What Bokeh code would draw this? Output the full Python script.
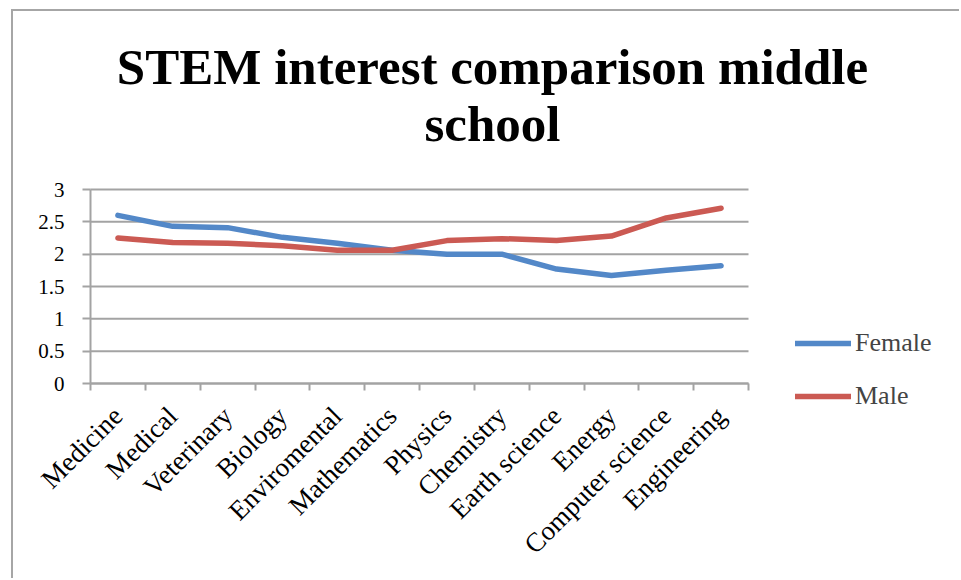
from math import pi

from bokeh.embed import file_html
from bokeh.models import (FixedTicker, Label, Legend, LegendItem,
                          NumeralTickFormatter, Range1d)
from bokeh.plotting import figure
from bokeh.resources import INLINE

# Average interest score per subject, middle school survey
categories = ["Medicine", "Medical", "Veterinary", "Biology", "Enviromental",
              "Mathematics", "Physics", "Chemistry", "Earth science", "Energy",
              "Computer science", "Engineering"]
female = [2.60, 2.43, 2.41, 2.26, 2.17, 2.06, 2.00, 2.00, 1.77, 1.67, 1.75, 1.82]
male = [2.25, 2.18, 2.17, 2.13, 2.06, 2.06, 2.21, 2.24, 2.21, 2.28, 2.56, 2.71]
y_ticks = [0, 0.5, 1, 1.5, 2, 2.5, 3]
title_lines = ["STEM interest comparison middle", "school"]

GRID = "#a3a3a3"
BLUE = "#5388c8"
RED = "#cb5a53"
SERIF = "Liberation Serif"

n = len(categories)
centers = [i + 0.5 for i in range(n)]
bounds = list(range(n + 1))
y_lo, y_hi = y_ticks[0], y_ticks[-1]

# Canvas 948x569; the plotting area is placed inside it by the ranges below
W, H = 948, 569
PX_L, PX_R, PX_T, PX_B = 77, 735, 178, 372          # plot box in canvas px
kx = (PX_R - PX_L) / n
ky = (PX_B - PX_T) / (y_hi - y_lo)
x_range = Range1d(-PX_L / kx, n + (W - PX_R) / kx)
y_range = Range1d(y_lo - (H - PX_B) / ky, y_hi + PX_T / ky)

p = figure(width=W, height=H, output_backend="svg", toolbar_location=None,
           x_range=x_range, y_range=y_range,
           min_border=0, background_fill_color="white",
           border_fill_color="white")
p.outline_line_color = None
p.styles = {"margin-left": "11px", "margin-top": "9px",
            "border-left": "2px solid #a6a6a6", "border-top": "2px solid #a6a6a6"}

# horizontal gridlines across the category span only
p.xgrid.visible = False
p.ygrid.visible = False
p.segment(x0=[bounds[0]] * len(y_ticks), x1=[bounds[-1]] * len(y_ticks),
          y0=y_ticks, y1=y_ticks, line_color=GRID, line_width=2)

# value axis pinned to the left edge of the category span
p.yaxis.fixed_location = bounds[0]
p.yaxis.bounds = (y_lo, y_hi)
p.yaxis.ticker = FixedTicker(ticks=y_ticks)
p.yaxis.formatter = NumeralTickFormatter(format="0.[0]")
p.yaxis.axis_line_color = GRID
p.yaxis.axis_line_width = 2
p.yaxis.major_tick_line_color = GRID
p.yaxis.major_tick_line_width = 2
p.yaxis.major_tick_out = 8
p.yaxis.major_tick_in = 0
p.yaxis.minor_tick_line_color = None
p.yaxis.major_label_standoff = 18
p.yaxis.major_label_text_font = SERIF
p.yaxis.major_label_text_font_size = "21px"
p.yaxis.major_label_text_color = "black"

# category axis at zero: labels at centres, tick marks between categories
p.xaxis.fixed_location = y_lo
p.xaxis.bounds = (bounds[0], bounds[-1])
p.xaxis.ticker = FixedTicker(ticks=centers, minor_ticks=bounds)
p.xaxis.major_label_overrides = {c: lab for c, lab in zip(centers, categories)}
p.xaxis.major_label_orientation = pi / 4
p.xaxis.axis_line_color = GRID
p.xaxis.axis_line_width = 2
p.xaxis.major_tick_line_color = None
p.xaxis.minor_tick_line_color = GRID
p.xaxis.minor_tick_line_width = 2
p.xaxis.minor_tick_out = 7
p.xaxis.minor_tick_in = 0
p.xaxis.major_label_standoff = 21
p.xaxis.major_label_text_font = SERIF
p.xaxis.major_label_text_font_size = "27px"
p.xaxis.major_label_text_color = "black"

r_f = p.line(centers, female, line_color=BLUE, line_width=5.5,
             line_join="round", line_cap="round")
r_m = p.line(centers, male, line_color=RED, line_width=5.5,
             line_join="round", line_cap="round")

legend = Legend(items=[LegendItem(label="Female", renderers=[r_f]),
                       LegendItem(label="Male", renderers=[r_m])],
                location=(782, 169), orientation="vertical",
                glyph_width=56, glyph_height=20, label_height=20,
                label_standoff=4, spacing=23, padding=0, margin=0,
                border_line_color=None, background_fill_alpha=0,
                label_text_font=SERIF, label_text_font_size="26px",
                label_text_baseline="middle")
p.add_layout(legend, "center")

# two-line chart title, centred over the chart area
title_cx = (479 - PX_L) / kx
title_base = [(PX_B - 55) / ky, (PX_B - 112) / ky]
for line, yb in zip(title_lines, title_base):
    p.add_layout(Label(x=title_cx, y=yb, text=line,
                       text_align="center", text_baseline="alphabetic",
                       text_font=SERIF, text_font_style="bold",
                       text_font_size="51px", text_color="black"))

open("out.html", "w").write(file_html(p, INLINE))
